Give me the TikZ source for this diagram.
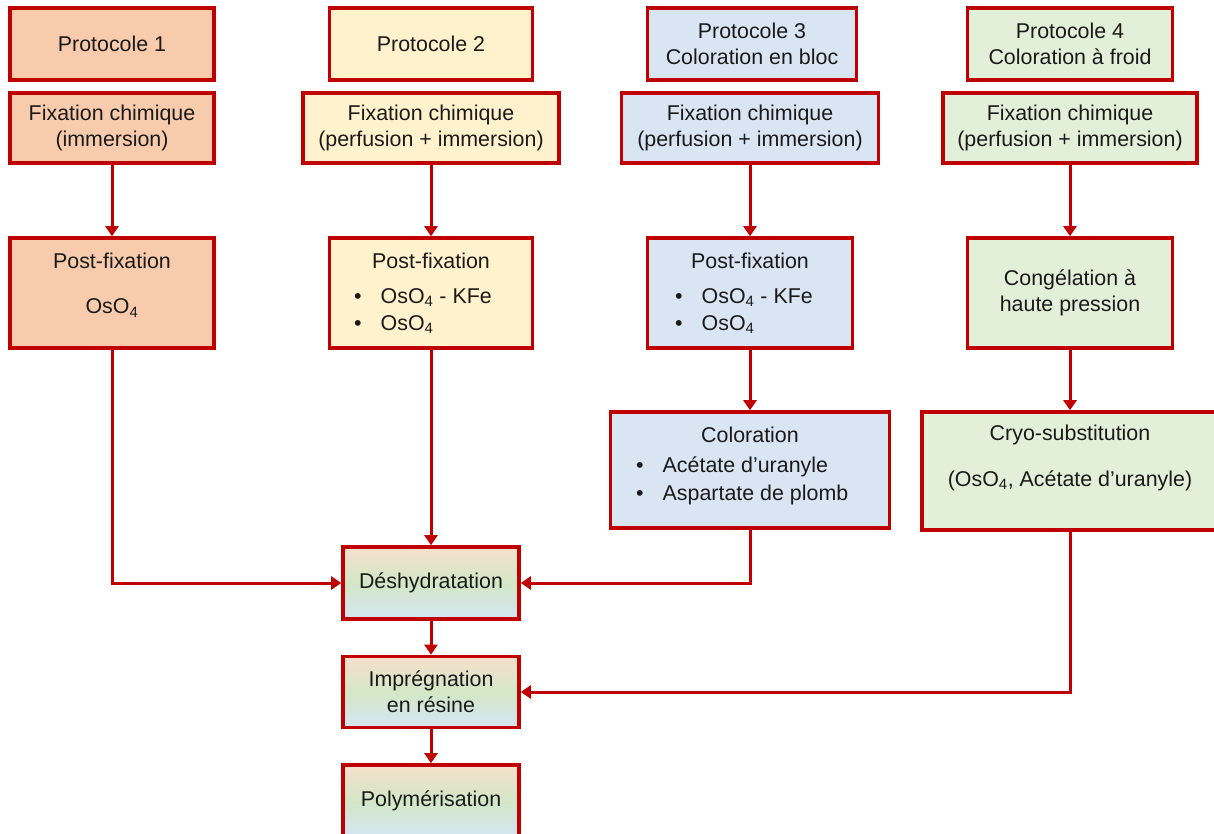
\documentclass[tikz,border=0pt]{standalone}
\usepackage{fontspec}
\setmainfont{Liberation Sans}
\usetikzlibrary{arrows.meta}
\definecolor{bred}{HTML}{C00000}
\definecolor{cone}{HTML}{F8CBAD}
\definecolor{ctwo}{HTML}{FFF2CC}
\definecolor{cthree}{HTML}{D9E5F2}
\definecolor{cfour}{HTML}{E2EFD9}
\definecolor{gtop}{HTML}{F6E0CC}
\definecolor{gmid}{HTML}{D3E7C6}
\definecolor{gbot}{HTML}{D5E5F3}
\definecolor{txt}{HTML}{1A1A1A}
\begin{document}
\begin{tikzpicture}[x=1pt,y=-1pt,
  font=\fontsize{21.4}{26}\selectfont,
  box/.style={draw=bred, line width=3.6pt, inner sep=0pt, align=center, text=txt},
  bone/.style={box, fill=cone},
  btwo/.style={box, fill=ctwo},
  bthree/.style={box, fill=cthree},
  bfour/.style={box, fill=cfour},
  grad/.style={box, top color=gtop, bottom color=gbot, middle color=gmid},
  lbl/.style={inner sep=0pt, text=txt, align=center},
  blist/.style={inner sep=0pt, text=txt, align=left, anchor=west, font=\fontsize{21.4}{27.5}\selectfont},
  arr/.style={draw=bred, line width=3pt, line join=miter, -{Triangle[width=13pt,length=10pt]}}
]
\useasboundingbox (0,0) rectangle (1214,834);

% column 1
\node[bone, minimum width=204pt, minimum height=72pt] (p1) at (112,44) {Protocole 1};
\node[bone, minimum width=204pt, minimum height=70pt] (f1) at (112,128) {Fixation chimique\\(immersion)};
\node[bone, minimum width=204pt, minimum height=110pt] (q1) at (112,293) {};
\node[lbl] (q1t) at (112,261) {Post-fixation};
\node[lbl] (q1a) at (112,308) {OsO\textsubscript{4}};

% column 2
\node[btwo, minimum width=203pt, minimum height=72pt] (p2) at (431,44) {Protocole 2};
\node[btwo, minimum width=256pt, minimum height=70pt] (f2) at (431,128) {Fixation chimique\\(perfusion + immersion)};
\node[btwo, minimum width=203pt, minimum height=110pt] (q2) at (431,293) {};
\node[lbl] (q2t) at (431,261) {Post-fixation};
\node[blist] (q2a) at (354,311) {\textbullet\hspace{19pt}OsO\textsubscript{4} - KFe\\\textbullet\hspace{19pt}OsO\textsubscript{4}};

% column 3
\node[bthree, minimum width=209pt, minimum height=72pt] (p3) at (752,44) {Protocole 3\\Coloration en bloc};
\node[bthree, minimum width=257pt, minimum height=70pt] (f3) at (750,128) {Fixation chimique\\(perfusion + immersion)};
\node[bthree, minimum width=205pt, minimum height=110pt] (q3) at (750,293) {};
\node[lbl] (q3t) at (750,261) {Post-fixation};
\node[blist] (q3a) at (675,311) {\textbullet\hspace{19pt}OsO\textsubscript{4} - KFe\\\textbullet\hspace{19pt}OsO\textsubscript{4}};
\node[bthree, minimum width=279pt, minimum height=116pt] (c3) at (750,470) {};
\node[lbl] (c3t) at (750,435) {Coloration};
\node[blist] (c3a) at (636,481) {\textbullet\hspace{19pt}Acétate d’uranyle\\\textbullet\hspace{19pt}Aspartate de plomb};

% column 4
\node[bfour, minimum width=205pt, minimum height=72pt] (p4) at (1070,44) {Protocole 4\\Coloration à froid};
\node[bfour, minimum width=254pt, minimum height=70pt] (f4) at (1070,128) {Fixation chimique\\(perfusion + immersion)};
\node[bfour, minimum width=205pt, minimum height=110pt] (g4) at (1070,293) {Congélation à\\haute pression};
\node[bfour, minimum width=296pt, minimum height=118pt] (s4) at (1070,471) {};
\node[lbl] (s4t) at (1070,435) {Cryo-substitution};
\node[lbl] (s4a) at (1070,481) {(OsO\textsubscript{4}, Acétate d’uranyle)};

% bottom chain
\node[grad, minimum width=176pt, minimum height=72pt] (de) at (431,583) {Déshydratation};
\node[grad, minimum width=176pt, minimum height=71pt] (im) at (431,692) {Imprégnation\\en résine};
\node[grad, minimum width=176pt, minimum height=72pt] (po) at (431,801) {Polymérisation};

% connectors
\draw[arr] (f1.south) -- (q1.north);
\draw[arr] (q1.south) |- (de.west);
\draw[arr] (f2.south) -- (q2.north);
\draw[arr] (q2.south) -- (de.north);
\draw[arr] (f3.south) -- (q3.north);
\draw[arr] (q3.south) -- (c3.north);
\draw[arr] (c3.south) |- (de.east);
\draw[arr] (f4.south) -- (g4.north);
\draw[arr] (g4.south) -- (s4.north);
\draw[arr] (s4.south) |- (im.east);
\draw[arr] (de.south) -- (im.north);
\draw[arr] (im.south) -- (po.north);
\end{tikzpicture}
\end{document}
